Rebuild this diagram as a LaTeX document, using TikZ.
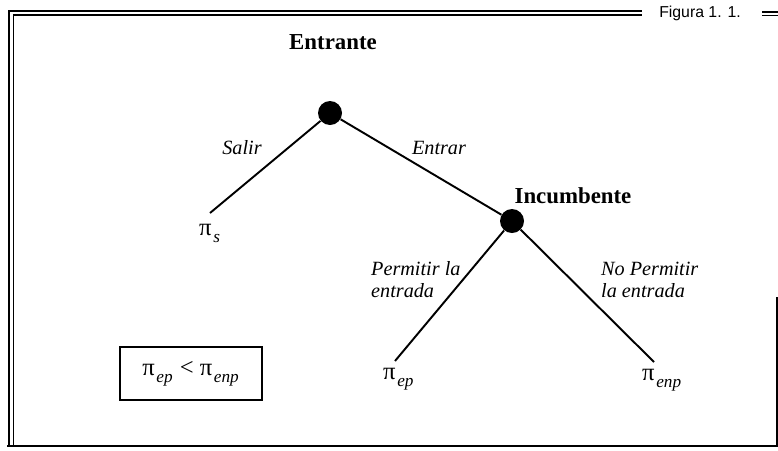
\documentclass[tikz,border=0pt]{standalone}
\usepackage{fontspec}
\setmainfont{Liberation Serif}
\newfontfamily\figfont{Liberation Sans}
\usetikzlibrary{positioning}
\newcommand{\pay}[1]{π\textsubscript{\kern1pt\raisebox{-2pt}{\itshape #1}}}
\begin{document}
\begin{tikzpicture}[
  decision/.style={circle, fill=black, inner sep=0pt, minimum size=0.48cm},
  player/.style={font=\fontsize{13}{15}\selectfont\bfseries},
  move/.style={font=\fontsize{11.5}{12.5}\selectfont\itshape, align=left},
  payoff/.style={font=\fontsize{14}{16}\selectfont, inner sep=1pt},
  branch/.style={line width=1.1pt},
  frameline/.style={line width=1pt},
]
  \useasboundingbox (0,0) rectangle (15.56,-9);

  % frame
  \draw[frameline] (0.18,-8.92) |- (12.84,-0.22);
  \draw[frameline] (0.27,-8.92) |- (12.84,-0.30);
  \node[font=\figfont\fontsize{9}{10}\selectfont] (fig) at (14.0,-0.26) {Figura 1. 1.};
  \draw[frameline] (15.24,-0.24) -- (15.56,-0.24);
  \draw[frameline] (15.24,-0.31) -- (15.56,-0.31);
  \draw[line width=1.2pt] (0.14,-8.92) -- (15.54,-8.92) -- (15.54,-5.94);

  % Entrante
  \node[player] (ent) at (6.66,-0.84) {Entrante};
  \node[decision] (root) at (6.60,-2.26) {};
  \coordinate (s) at (4.20,-4.26);
  \node[payoff, below=0.18cm of s] (ps) {\pay{s}};
  \draw[branch] (root) -- (s);
  \node[move] (salir) at (4.84,-2.96) {Salir};

  % Incumbente
  \node[decision] (inc) at (10.24,-4.42) {};
  \node[player] (incl) at (11.46,-3.92) {Incumbente};
  \draw[branch] (root) -- (inc);
  \node[move] (entrar) at (8.78,-2.96) {Entrar};

  \coordinate (ep) at (7.90,-7.22);
  \coordinate (enp) at (13.08,-7.24);
  \draw[branch] (inc) -- (ep);
  \draw[branch] (inc) -- (enp);
  \node[payoff, below right=0.10cm and -0.28cm of ep] (pep) {\pay{ep}};
  \node[payoff, below right=0.10cm and -0.28cm of enp] (penp) {\pay{enp}};
  \node[move, anchor=west] (perm) at (7.30,-5.60) {Permitir la\\entrada};
  \node[move, anchor=west] (noperm) at (11.90,-5.60) {No Permitir\\la entrada};

  % comparison
  \node[draw, line width=0.9pt, payoff, minimum width=2.84cm, minimum height=1.06cm]
    (cmp) at (3.82,-7.47) {\pay{ep} < \pay{enp}};
\end{tikzpicture}
\end{document}
